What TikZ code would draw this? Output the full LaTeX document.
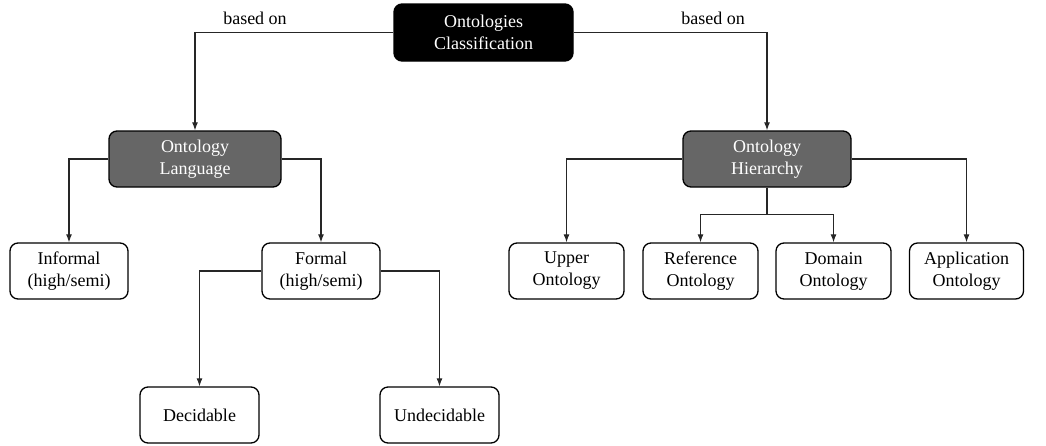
\documentclass[tikz,border=0pt]{standalone}
\usepackage{fontspec}
\setmainfont{Liberation Serif}
\usetikzlibrary{arrows.meta}
\begin{document}
\begin{tikzpicture}[x=1pt,y=-1pt,
  box/.style={draw=black, line width=1.3pt, rounded corners=8pt, fill=white,
    align=center, inner sep=0pt, minimum height=56pt, minimum width=116pt,
    font=\fontsize{18}{22}\selectfont},
  topbox/.style={box, fill=black, text=white, minimum width=179pt, minimum height=57pt},
  graybox/.style={box, fill=black!60, text=white, minimum width=172pt},
  conn/.style={draw=black!85, line width=1.2pt, -{Latex[length=8pt,width=6pt]}},
  plain/.style={draw=black!85, line width=1.8pt},
  lbl/.style={inner sep=0pt, font=\fontsize{18}{22}\selectfont}
]
\useasboundingbox (0,0) rectangle (1046,445);

\node[topbox] (top) at (483.5,32.5) {Ontologies\\Classification};
\node[graybox] (lang) at (195,159) {Ontology\\Language};
\node[graybox, minimum width=168pt] (hier) at (767,159) {Ontology\\Hierarchy};

\node[box, minimum width=118pt] (inf) at (69,271) {Informal\\(high/semi)};
\node[box, minimum width=118pt] (formal) at (321,271) {Formal\\(high/semi)};
\node[box, minimum width=119pt] (dec) at (199.5,415) {Decidable};
\node[box, minimum width=119pt] (und) at (439.5,415) {Undecidable};

\node[box, minimum width=115pt] (upper) at (566.5,271) {Upper\\Ontology};
\node[box, minimum width=115pt] (ref) at (700.5,271) {Reference\\Ontology};
\node[box, minimum width=115pt] (dom) at (833.5,271) {Domain\\Ontology};
\node[box, minimum width=114pt] (app) at (966.5,271) {Application\\Ontology};

\node[lbl] (b1) at (255,18) {based on};
\node[lbl] (b2) at (713,18) {based on};

\draw[conn] (top.west) -| (lang.north);
\draw[conn] (top.east) -| (hier.north);

\draw[conn] (lang.west) -| (inf.north);
\draw[conn] (lang.east) -| (formal.north);

\draw[conn] (formal.west) -| (dec.north);
\draw[conn] (formal.east) -| (und.north);

\draw[conn] (hier.west) -| (upper.north);
\draw[conn] (hier.east) -| (app.north);
\coordinate (hj) at ([yshift=-27pt]hier.south);
\draw[plain] (hier.south) -- (hj);
\draw[conn] (hj) -| (ref.north);
\draw[conn] (hj) -| (dom.north);
\end{tikzpicture}
\end{document}
